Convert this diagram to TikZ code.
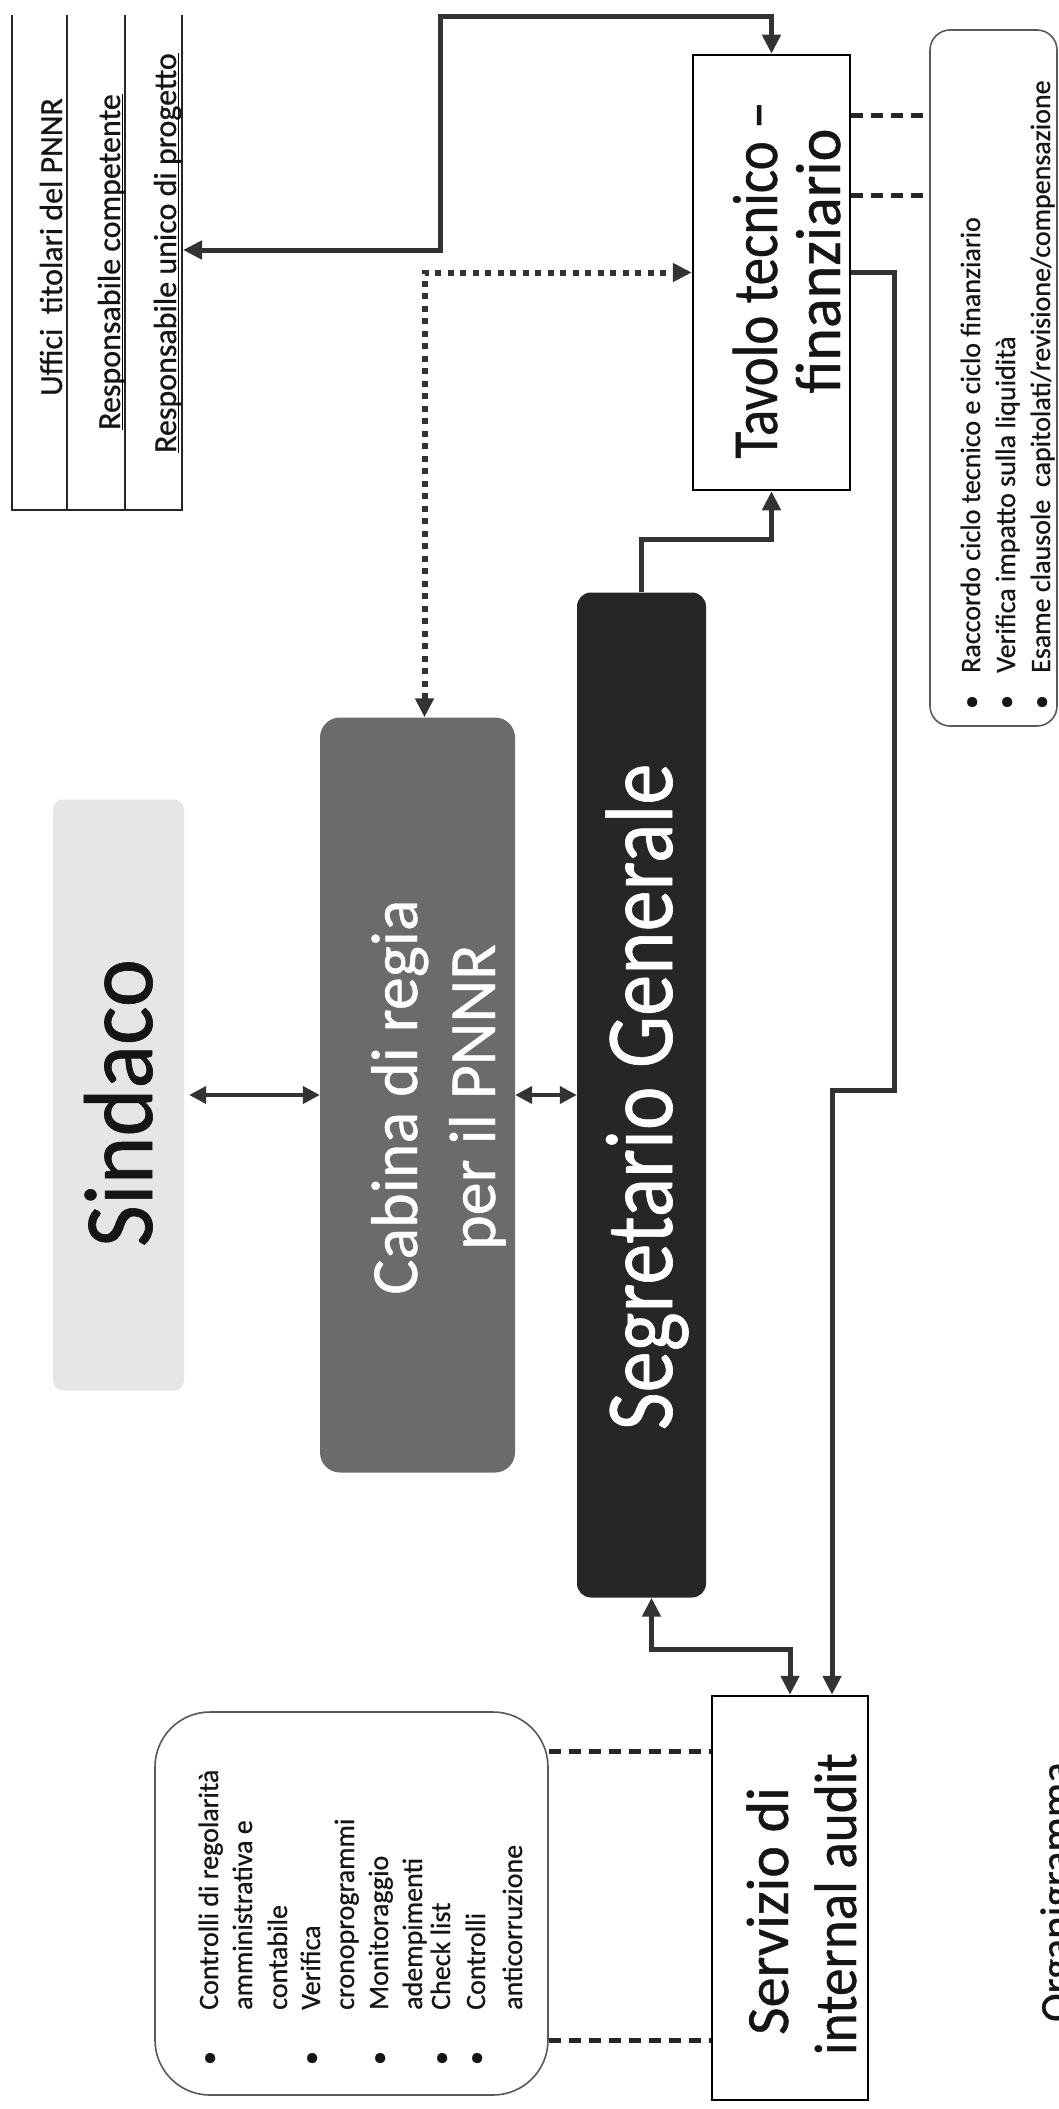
\documentclass[tikz,border=0pt]{standalone}
\usepackage{fontspec}
\setmainfont{Carlito}
\newfontfamily\dk{Carlito}[FakeBold=0.7]
\usepackage{graphicx}
\usetikzlibrary{arrows.meta}
\definecolor{ln}{HTML}{333333}
\definecolor{sindfill}{HTML}{E6E6E6}
\definecolor{cabfill}{HTML}{6B6B6B}
\definecolor{segfill}{HTML}{262626}
\definecolor{txt}{HTML}{151515}
\newcommand{\fsz}[1]{\dk\fontsize{#1pt}{#1pt}\selectfont}
\begin{document}
\begin{tikzpicture}[x=1pt,y=-1pt,
  plainbox/.style={draw=black, line width=2.5pt, fill=white, inner sep=0pt},
  softbox/.style={draw=black!65, line width=1.6pt, fill=white, inner sep=0pt},
  fillbox/.style={draw=none, inner sep=0pt},
  tabline/.style={draw=black!85, line width=2pt},
  thickconn/.style={color=ln, line width=5pt, >={Triangle[length=19pt,width=18pt]}},
  thinconn/.style={color=ln, line width=4pt, >={Triangle[length=17pt,width=17pt]}},
  dotconn/.style={color=ln, line width=6pt, dash pattern=on 6pt off 6.5pt, >={Triangle[length=19pt,width=18pt]}},
  dashconn/.style={color=black!85, line width=5pt, dash pattern=on 12pt off 8pt},
  rt/.style={rotate=90, inner sep=0pt, anchor=base, text=txt},
  rtw/.style={rotate=90, inner sep=0pt, anchor=base west, text=txt},
]
\useasboundingbox (0,0) rectangle (1059,2109);
\clip (0,0) rectangle (1059,2109);
\fill[white] (0,0) rectangle (1059,2109);

% ---------- table (top left)
\draw[tabline] (12,15) -- (12,510) -- (182,510) -- (182,15);
\draw[tabline] (67,15) -- (67,510);
\draw[tabline] (125,15) -- (125,510);
\coordinate (tabr) at (183,250);
\node[rt, font=\fsz{32}] (t1) at (62,247) {Uffici\ \ titolari del PNNR};
\node[rt, font=\fsz{32}] (t2) at (120,262) {Responsabile competente};
\node[rt, font=\fsz{32}] (t3) at (176,253) {Responsabile unico di progetto};
\draw[line width=1.3pt] ([xshift=2.5pt]t2.base west) -- ([xshift=2.5pt]t2.base east);
\draw[line width=1.3pt] ([xshift=2.5pt]t3.base west) -- ([xshift=2.5pt]t3.base east);

% ---------- boxes
\node[plainbox, minimum width=157pt, minimum height=435pt] (tav) at (771.5,272.5) {};
\node[softbox, rounded corners=20pt, minimum width=127pt, minimum height=696pt] (rbox) at (993.5,378) {};
\node[fillbox, fill=sindfill, rounded corners=10pt, minimum width=131pt, minimum height=591pt] (sin) at (118.5,1095) {};
\node[fillbox, fill=cabfill, rounded corners=20pt, minimum width=195pt, minimum height=755pt] (cab) at (417.5,1095) {};
\node[fillbox, fill=segfill, rounded corners=14pt, minimum width=129pt, minimum height=1005pt] (seg) at (641.5,1095) {};
\node[plainbox, minimum width=156pt, minimum height=404pt] (aud) at (790,1898) {};
\node[softbox, rounded corners=55pt, minimum width=393pt, minimum height=383pt] (lbox) at (351.5,1903.5) {};

% ---------- connectors
\draw[thickconn,<->] (tabr) -| (440,17) -| (tav.north);
\draw[dotconn,<->] ([xshift=7pt]cab.north) |- (tav.west);
\draw[thickconn,->] (seg.north) -- ++(0,-53) -| (tav.south);
\draw[thickconn,->] (tav.east) -| (894,1090) -| ([xshift=42pt]aud.north);
\draw[thickconn,<->] ([xshift=10pt]seg.south) -- ++(0,52) -| (aud.north);
\draw[thinconn,<->,shorten <=5pt] (sin.east) -- (cab.west);
\draw[thinconn,<->] (cab.east) -- (seg.west);
\coordinate (dA) at (0,115);
\coordinate (dB) at (0,195);
\coordinate (dC) at (0,1751);
\coordinate (dD) at (0,2040);
\draw[dashconn] (tav.east |- dA) -- (rbox.west |- dA);
\draw[dashconn] (tav.east |- dB) -- (rbox.west |- dB);
\draw[dashconn] (lbox.east |- dC) -- (aud.west |- dC);
\draw[dashconn] (lbox.east |- dD) -- (aud.west |- dD);

% ---------- box texts
\node[rt, font=\fsz{98}] (sint) at (152,1103) {\scalebox{0.93}[1]{Sindaco}};
\node[rt, font=\fsz{66}, text=white] (cabt1) at (417,1097) {Cabina di regia};
\node[rt, font=\fsz{66}, text=white] (cabt2) at (495,1097) {per il PNNR};
\node[rt, font=\fsz{96}, text=white] (segt) at (672,1097) {\scalebox{0.86}[1]{Segretario Generale}};
\node[rt, font=\fsz{64}] (tavt1) at (777,280) {\scalebox{0.86}[1]{Tavolo tecnico –}};
\node[rt, font=\fsz{64}] (tavt2) at (840,261) {\scalebox{0.97}[1]{finanziario}};
\node[rt, font=\fsz{60}] (audt1) at (788,1911) {Servizio di};
\node[rt, font=\fsz{60}] (audt2) at (856,1904) {\scalebox{0.92}[1]{internal audit}};

% ---------- right box list
\node[rt, font=\fsz{28}] (rb1) at (980,702) {•};
\node[rt, font=\fsz{28}] (rb2) at (1015,702) {•};
\node[rt, font=\fsz{28}] (rb3) at (1050,702) {•};
\node[rtw, font=\fsz{28}] (r1) at (980,673) {Raccordo ciclo tecnico e ciclo finanziario};
\node[rtw, font=\fsz{28}] (r2) at (1015,673) {Verifica impatto sulla liquidità};
\node[rtw, font=\fsz{28}] (r3) at (1050,673) {Esame clausole\ \ capitolati/revisione/compensazione};

% ---------- left box list
\node[rt, font=\fsz{28}] (lb1) at (218,2058) {•};
\node[rt, font=\fsz{28}] (lb2) at (320,2058) {•};
\node[rt, font=\fsz{28}] (lb3) at (388,2058) {•};
\node[rt, font=\fsz{28}] (lb4) at (450,2058) {•};
\node[rt, font=\fsz{28}] (lb5) at (485,2058) {•};
\node[rtw, font=\fsz{28}] (l1) at (218,2010) {Controlli di regolarità};
\node[rtw, font=\fsz{28}] (l2) at (252,2010) {amministrativa e};
\node[rtw, font=\fsz{28}] (l3) at (287,2010) {contabile};
\node[rtw, font=\fsz{28}] (l4) at (320,2010) {Verifica};
\node[rtw, font=\fsz{28}] (l5) at (354,2010) {cronoprogrammi};
\node[rtw, font=\fsz{28}] (l6) at (388,2010) {Monitoraggio};
\node[rtw, font=\fsz{28}] (l7) at (422,2010) {adempimenti};
\node[rtw, font=\fsz{28}] (l8) at (450,2010) {Check list};
\node[rtw, font=\fsz{28}] (l9) at (485,2010) {Controlli};
\node[rtw, font=\fsz{28}] (l10) at (522,2010) {anticorruzione};

% ---------- caption (cut by the page edge)
\node[rtw, font=\fsz{43}] (org) at (1070,2022) {Organigramma};
\end{tikzpicture}
\end{document}
